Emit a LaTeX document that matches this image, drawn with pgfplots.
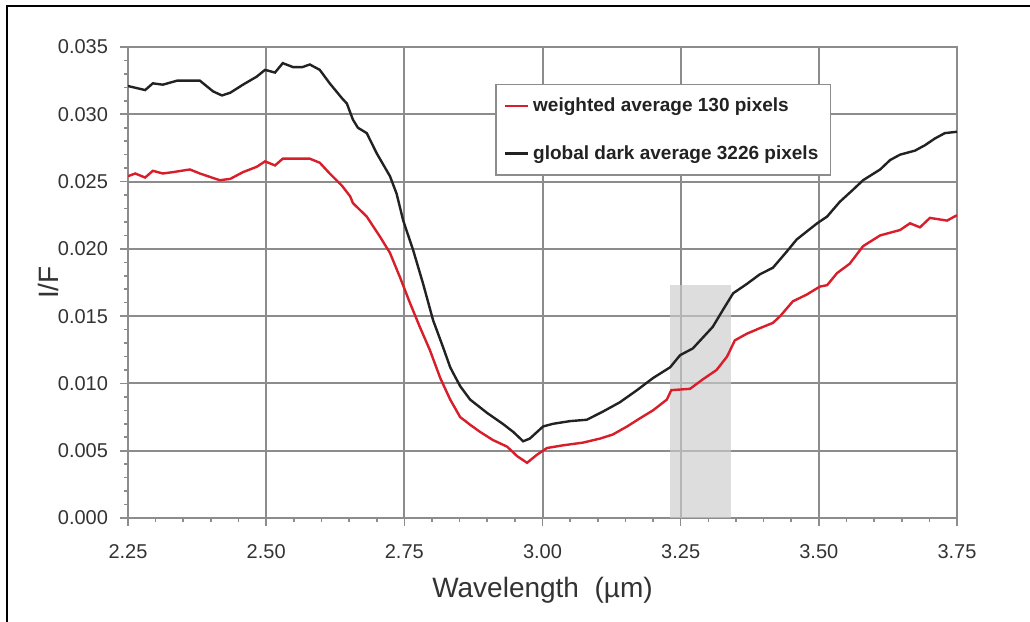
\documentclass[border=0pt]{standalone}
\usepackage{pgfplots}
\pgfplotsset{compat=1.18}
\usepackage{fontspec}
\setmainfont{Liberation Sans}
\definecolor{redline}{HTML}{D81E2A}
\definecolor{blackline}{HTML}{222222}
\definecolor{gridc}{HTML}{8C8C8C}
\definecolor{txt}{HTML}{333333}
\begin{document}
\begin{tikzpicture}
\useasboundingbox (0,0) rectangle (515pt,311pt);
\fill[white] (0,0) rectangle (515pt,311pt);
\draw[line width=1pt] (3.5pt,0) -- (3.5pt,308pt) -- (515pt,308pt);
\begin{axis}[
  at={(64pt,52pt)}, anchor=south west,
  scale only axis, width=414.5pt, height=235.5pt,
  xmin=2.25, xmax=3.75, ymin=0, ymax=0.035,
  xtick={2.25,2.50,...,3.75},
  ytick={0,0.005,...,0.035},
  minor x tick num=4, minor y tick num=4,
  xticklabel style={/pgf/number format/fixed, /pgf/number format/fixed zerofill, /pgf/number format/precision=2, /pgf/number format/assume math mode=true, yshift=-5.5pt},
  yticklabel style={/pgf/number format/fixed, /pgf/number format/fixed zerofill, /pgf/number format/precision=3, /pgf/number format/assume math mode=true, xshift=-2.5pt},
  scaled y ticks=false,
  tick label style={font=\fontsize{10}{12}\selectfont, text=txt},
  tick align=outside, xtick pos=bottom, ytick pos=left,
  major tick length=4pt, minor tick length=2pt,
  every tick/.style={gridc, line width=0.8pt},
  axis line style={gridc, line width=0.8pt},
  grid=major, major grid style={gridc, line width=1pt},
  xlabel={Wavelength\ \ (µm)},
  ylabel={I/F},
  label style={font=\fontsize{14}{16}\selectfont, text=txt},
  xlabel style={at={(axis description cs:0.5,0)}, anchor=north, inner sep=0pt, yshift=-29.5pt},
  ylabel style={at={(axis description cs:-0.0955,0.5)}, anchor=center},
  legend style={at={(rel axis cs:0.4427,0.922)}, anchor=north west,
    draw=gridc, line width=0.8pt, fill=white,
    font=\fontsize{9.5}{11}\selectfont\bfseries, text=blackline,
    inner xsep=4pt, inner ysep=4.5pt, row sep=11.5pt},
  legend cell align=left,
  legend image code/.code={\draw[#1] (0pt,0pt) -- (11.5pt,0pt);},
]
\addplot[forget plot, draw=none, fill=gray!40, fill opacity=0.65] coordinates {(3.231,0) (3.231,0.0173) (3.341,0.0173) (3.341,0)} -- cycle;
\addplot[redline, line width=1.2pt] coordinates {
(2.250,0.0254)(2.263,0.0256)(2.281,0.0253)(2.295,0.0258)(2.313,0.0256)(2.331,0.0257)
(2.362,0.0259)(2.380,0.0256)(2.416,0.0251)(2.435,0.0252)(2.458,0.0257)(2.483,0.0261)
(2.498,0.0265)(2.516,0.0262)(2.530,0.0267)(2.579,0.0267)(2.597,0.0264)(2.615,0.0256)
(2.637,0.0247)(2.652,0.0239)(2.657,0.0234)(2.682,0.0224)(2.706,0.0209)(2.724,0.0197)
(2.742,0.0179)(2.760,0.0160)(2.778,0.0142)(2.796,0.0125)(2.815,0.0104)(2.833,0.0088)
(2.851,0.0075)(2.870,0.0069)(2.887,0.0064)(2.910,0.0058)(2.936,0.0053)(2.954,0.0046)
(2.972,0.0041)(2.990,0.0047)(3.008,0.0052)(3.037,0.0054)(3.073,0.0056)(3.104,0.0059)
(3.127,0.0062)(3.153,0.0068)(3.176,0.0074)(3.200,0.0080)(3.225,0.0088)(3.233,0.0095)
(3.267,0.0096)(3.290,0.0103)(3.315,0.0110)(3.334,0.0120)(3.348,0.0132)(3.370,0.0137)
(3.393,0.0141)(3.417,0.0145)(3.430,0.0150)(3.453,0.0161)(3.478,0.0166)(3.502,0.0172)
(3.515,0.0173)(3.533,0.0182)(3.556,0.0189)(3.580,0.0202)(3.611,0.0210)(3.647,0.0214)
(3.665,0.0219)(3.683,0.0216)(3.701,0.0223)(3.732,0.0221)(3.750,0.0225)
};
\addlegendentry{weighted average 130 pixels}
\addplot[blackline, line width=1.2pt] coordinates {
(2.250,0.0321)(2.281,0.0318)(2.295,0.0323)(2.313,0.0322)(2.339,0.0325)(2.380,0.0325)
(2.389,0.0322)(2.404,0.0317)(2.420,0.0314)(2.435,0.0316)(2.458,0.0322)(2.483,0.0328)
(2.498,0.0333)(2.516,0.0331)(2.530,0.0338)(2.549,0.0335)(2.565,0.0335)(2.579,0.0337)
(2.597,0.0333)(2.615,0.0323)(2.637,0.0312)(2.646,0.0308)(2.657,0.0296)(2.666,0.0290)
(2.682,0.0286)(2.700,0.0271)(2.724,0.0254)(2.736,0.0241)(2.748,0.0221)(2.766,0.0199)
(2.784,0.0174)(2.802,0.0147)(2.820,0.0127)(2.833,0.0112)(2.838,0.0108)(2.851,0.0098)
(2.869,0.0088)(2.900,0.0078)(2.928,0.0070)(2.947,0.0064)(2.965,0.0057)(2.977,0.0059)
(3.001,0.0068)(3.019,0.0070)(3.050,0.0072)(3.080,0.0073)(3.109,0.0079)(3.140,0.0086)
(3.171,0.0095)(3.200,0.0104)(3.231,0.0112)(3.249,0.0121)(3.272,0.0126)(3.308,0.0142)
(3.327,0.0155)(3.345,0.0167)(3.370,0.0174)(3.393,0.0181)(3.417,0.0186)(3.442,0.0198)
(3.460,0.0207)(3.497,0.0219)(3.515,0.0224)(3.538,0.0235)(3.562,0.0244)(3.580,0.0251)
(3.611,0.0259)(3.629,0.0266)(3.647,0.0270)(3.674,0.0273)(3.692,0.0277)(3.710,0.0282)
(3.728,0.0286)(3.750,0.0287)
};
\addlegendentry{global dark average 3226 pixels}
\end{axis}
\end{tikzpicture}
\end{document}
